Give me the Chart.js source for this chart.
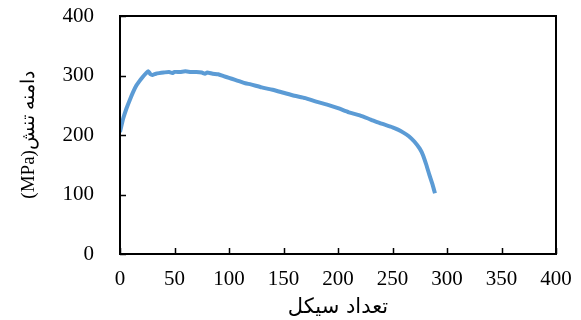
<!DOCTYPE html>
<html>
<head>
<meta charset="utf-8">
<script src="https://cdn.jsdelivr.net/npm/chart.js@4"></script>
<style>
html,body{margin:0;padding:0;background:#fff;}
#wrap{width:581px;height:320px;}
</style>
</head>
<body>
<div id="wrap"><canvas id="stressChart"></canvas></div>
<script>
// cycles vs stress amplitude
const cycles=[0,3,6,9,12,15,18,21,24,26,28,30,33,36,40,45,48,50,55,60,65,70,75,78,80,85,90,95,100,105,110,115,120,130,140,150,160,170,180,190,200,210,220,230,240,250,255,260,265,270,275,278,281,284,287,289];
const stress=[205,228,245,259,272,283,291,298,304,307,302,301,303,304,305,306,304,306,306,307,306,306,305,303,305,303,302,299,296,293,290,287,285,280,276,271,266,262,256,251,245,238,233,226,219,213,209,204,198,189,177,166,150,132,115,102];
const xTicks=[0,50,100,150,200,250,300,350,400];
const yTicks=[0,100,200,300,400];
const xTitle='تعداد سیکل';
const yTitle='(MPa)دامنه تنش';

const serif="'Liberation Serif', 'DejaVu Serif', serif";

// frame + inward tick marks
const frame={
  id:'frame',
  afterDraw(c){
    const ctx=c.ctx, a=c.chartArea, xs=c.scales.x, ys=c.scales.y;
    ctx.save();
    ctx.strokeStyle='#000';
    ctx.lineWidth=2;
    ctx.strokeRect(a.left,a.top,a.right-a.left,a.bottom-a.top);
    ctx.lineWidth=1.5;
    ctx.beginPath();
    xTicks.forEach(v=>{
      const px=Math.round(xs.getPixelForValue(v))+0.5;
      ctx.moveTo(px,a.bottom);ctx.lineTo(px,a.bottom-6);
    });
    yTicks.forEach(v=>{
      const py=Math.round(ys.getPixelForValue(v))+0.5;
      ctx.moveTo(a.left,py);ctx.lineTo(a.left+6,py);
    });
    ctx.stroke();
    ctx.restore();
  }
};

new Chart(document.getElementById('stressChart'),{
  type:'line',
  data:{
    datasets:[{
      data:cycles.map((x,i)=>({x:x,y:stress[i]})),
      borderColor:'#5B9BD5',
      borderWidth:4,
      pointRadius:0,
      tension:0.2,
      fill:false
    }]
  },
  options:{
    responsive:true,
    maintainAspectRatio:false,
    animation:false,
    layout:{padding:{top:16,right:25,left:0,bottom:0}},
    plugins:{legend:{display:false},tooltip:{enabled:false}},
    scales:{
      x:{
        type:'linear',min:0,max:400,
        afterBuildTicks:s=>{s.ticks=xTicks.map(v=>({value:v}));},
        afterFit:s=>{s.height=66;s.paddingLeft=0;s.paddingRight=0;},
        grid:{display:false},
        border:{display:false},
        ticks:{color:'#000',padding:5,maxRotation:0,font:{family:serif,size:21}},
        title:{display:true,text:xTitle,color:'#000',padding:{top:3,bottom:0},font:{family:"'DejaVu Sans', serif",size:21}}
      },
      y:{
        min:0,max:400,
        afterBuildTicks:s=>{s.ticks=yTicks.map(v=>({value:v}));},
        afterFit:s=>{s.width=120;s.paddingTop=0;s.paddingBottom=0;},
        grid:{display:false},
        border:{display:false},
        ticks:{color:'#000',padding:18,font:{family:serif,size:21}},
        title:{display:true,text:yTitle,color:'#000',padding:{top:18,bottom:6},font:{family:serif,size:19}}
      }
    }
  },
  plugins:[frame]
});
</script>
</body>
</html>
